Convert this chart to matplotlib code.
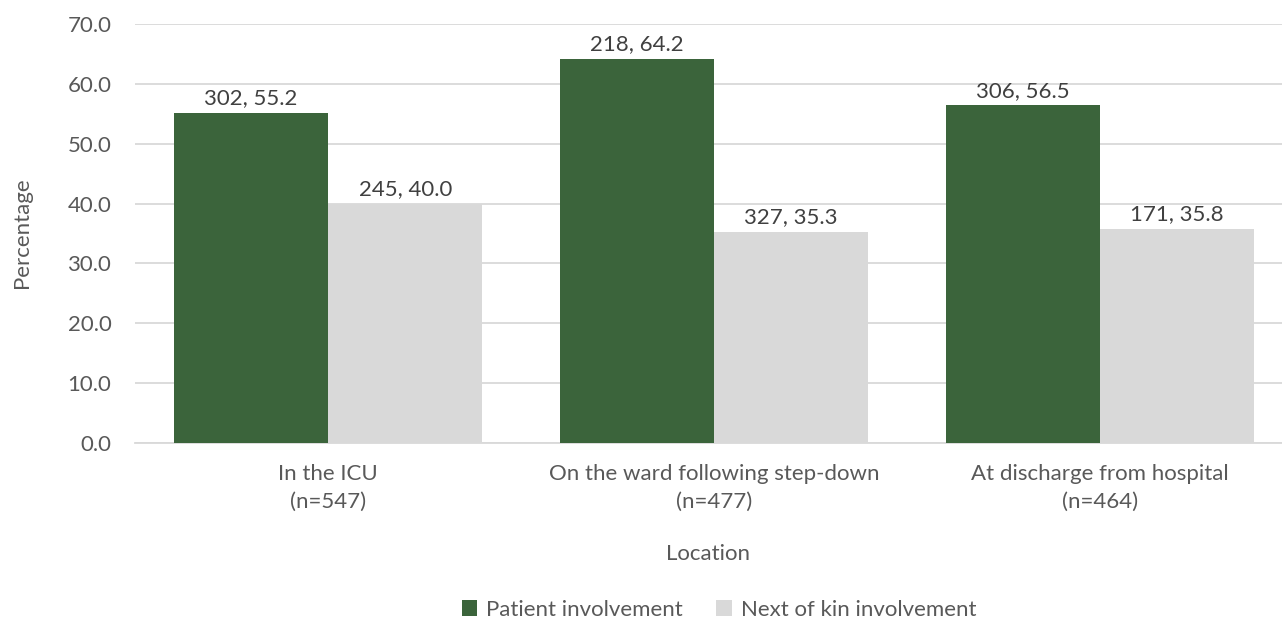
import numpy as np
import matplotlib.pyplot as plt

# chart data
locations = ["In the ICU\n(n=547)",
             "On the ward following step-down\n(n=477)",
             "At discharge from hospital\n(n=464)"]
patient_n = [302, 218, 306]
patient_pct = [55.2, 64.2, 56.5]
kin_n = [245, 327, 171]
kin_pct = [40.0, 35.3, 35.8]
series_names = ["Patient involvement", "Next of kin involvement"]

GREEN = "#3B643B"
GREY = "#D9D9D9"
TEXT = "#595959"
FS = 16

plt.rcParams['font.family'] = ['Lato', 'DejaVu Sans']

fig = plt.figure(figsize=(12.82, 6.2), dpi=100)
W, H = 1282, 620
ax = fig.add_axes([135 / W, 1 - 443 / H, 1158 / W, (443 - 24) / H])

x = np.arange(len(locations))
width = 0.4
b1 = ax.bar(x - width / 2, patient_pct, width, color=GREEN,
            label=series_names[0], zorder=3)
b2 = ax.bar(x + width / 2, kin_pct, width, color=GREY,
            label=series_names[1], zorder=3)

# data labels "n, pct"
for bars, ns, pcts in ((b1, patient_n, patient_pct), (b2, kin_n, kin_pct)):
    for bar, n, p in zip(bars, ns, pcts):
        ax.annotate(f"{n}, {p:.1f}",
                    (bar.get_x() + bar.get_width() / 2, bar.get_height()),
                    xytext=(0, 3), textcoords="offset points",
                    ha="center", va="bottom", fontsize=FS, color="#404040")

ax.set_xlim(-0.5, len(locations) - 0.5)
ax.set_ylim(0, 70)
ax.set_yticks(np.arange(0, 71, 10))
ax.set_yticklabels([f"{v:.1f}" for v in np.arange(0, 71, 10)])
ax.set_xticks(x)
ax.set_xticklabels(locations, linespacing=1.5)

ax.grid(axis="y", color=GREY, linewidth=1.3, zorder=0)
for side in ("top", "right", "left"):
    ax.spines[side].set_visible(False)
ax.spines["bottom"].set_color(GREY)
ax.spines["bottom"].set_linewidth(1.3)
ax.tick_params(axis="both", length=0, labelsize=FS, colors=TEXT)
ax.tick_params(axis="x", pad=15)
ax.tick_params(axis="y", pad=17)

fig.text(22 / W, 1 - 233 / H, "Percentage", rotation=90, ha="center",
         va="center", fontsize=FS, color=TEXT)
fig.text(708 / W, 1 - 554 / H, "Location", ha="center", va="center",
         fontsize=FS, color=TEXT)

leg = fig.legend(handles=[b1, b2], loc="center", ncol=2,
                 bbox_to_anchor=(719 / W, 1 - 610 / H), frameon=False,
                 fontsize=FS, handlelength=0.7, handleheight=0.7,
                 handletextpad=0.4, columnspacing=1.5)
for t in leg.get_texts():
    t.set_color(TEXT)

fig.savefig("out.png", dpi=100)
